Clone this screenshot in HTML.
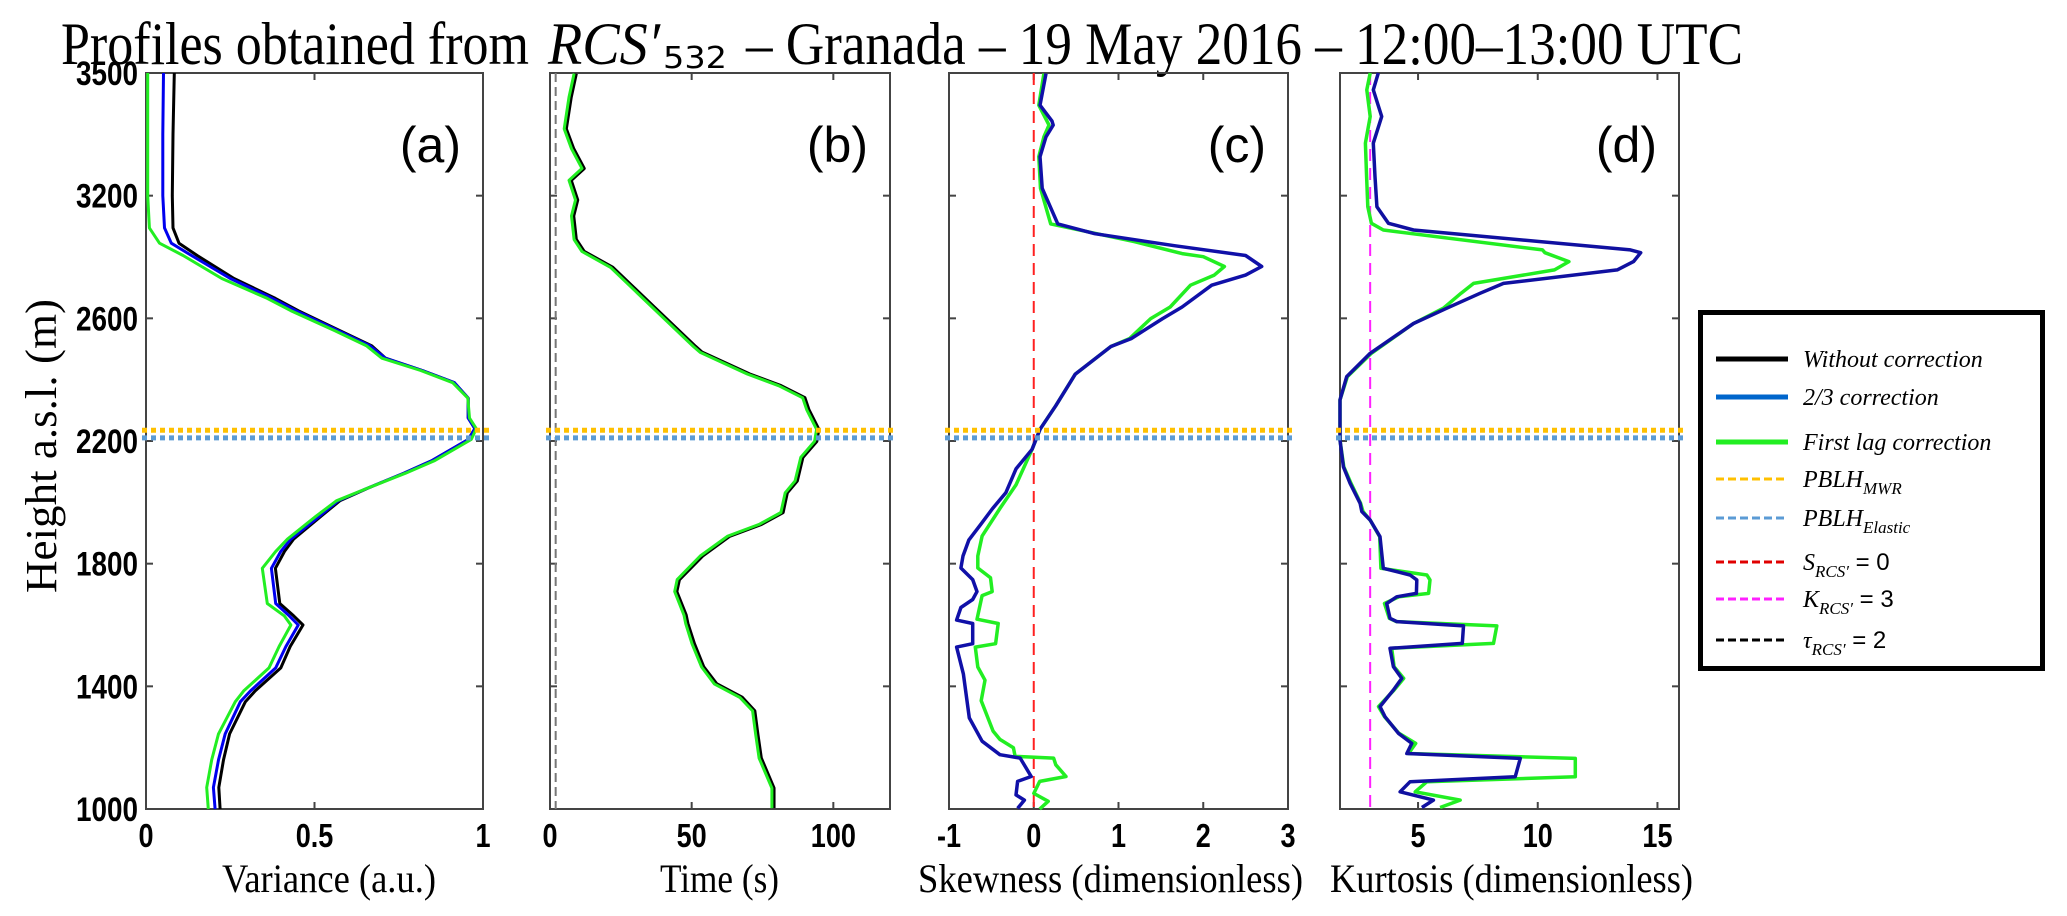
<!DOCTYPE html>
<html><head><meta charset="utf-8">
<style>
html,body{margin:0;padding:0;background:#fff;}
svg{display:block;}
</style></head>
<body>
<svg id="fig" width="2067" height="916" viewBox="0 0 2067 916" xmlns="http://www.w3.org/2000/svg">
<text x="61" y="64" font-family="Liberation Serif, serif" font-size="60" fill="#000" textLength="468" lengthAdjust="spacingAndGlyphs">Profiles obtained from</text>
<text x="548" y="64" font-family="Liberation Serif, serif" font-style="italic" font-size="60" fill="#000" textLength="112" lengthAdjust="spacingAndGlyphs">RCS′</text>
<text x="663" y="68" font-family="DejaVu Sans, sans-serif" font-size="30" fill="#000" textLength="64" lengthAdjust="spacingAndGlyphs">532</text>
<text x="746" y="64" font-family="Liberation Serif, serif" font-size="60" fill="#000" textLength="997" lengthAdjust="spacingAndGlyphs">– Granada – 19 May 2016 – 12:00–13:00 UTC</text>
<text transform="translate(56,446) rotate(-90)" text-anchor="middle" font-family="Liberation Serif, serif" font-size="44" fill="#000" textLength="294" lengthAdjust="spacingAndGlyphs">Height a.s.l. (m)</text>
<g id="plots"></g>
<g id="legend"></g>
</svg>
<script>
// ---------- data ----------
const yTickLabels = ['1000','1400','1800','2200','2600','3200','3500'];
const pblhMWR = 2235;
const pblhElastic = 2210;

// Panel (a) variance
const hA = [1000,1070,1160,1245,1350,1385,1460,1530,1600,1630,1670,1785,1840,1880,1955,2005,2045,2095,2135,2205,2240,2275,2340,2390,2430,2470,2510,2560,2625,2665,2730,2805,2845,2895,3000,3200,3400];
const varBlack = [0.22,0.216,0.23,0.248,0.295,0.324,0.40,0.428,0.466,0.438,0.397,0.384,0.411,0.438,0.52,0.575,0.656,0.765,0.847,0.956,0.976,0.956,0.956,0.915,0.82,0.711,0.67,0.575,0.452,0.384,0.261,0.152,0.098,0.08,0.078,0.08,0.084];
const varBlue = [0.205,0.2,0.215,0.235,0.28,0.31,0.385,0.415,0.452,0.425,0.385,0.372,0.4,0.43,0.515,0.57,0.655,0.765,0.847,0.956,0.976,0.956,0.956,0.915,0.82,0.71,0.665,0.57,0.445,0.375,0.25,0.135,0.075,0.055,0.05,0.05,0.052];
const varGreen = [0.185,0.18,0.195,0.215,0.265,0.29,0.365,0.395,0.43,0.41,0.36,0.345,0.385,0.42,0.505,0.565,0.655,0.77,0.855,0.965,0.98,0.96,0.955,0.91,0.815,0.7,0.655,0.56,0.43,0.36,0.225,0.11,0.04,0.01,0.005,0.005,0.005];
const varTicks = [0,0.5,1];
const varTickLabels = ['0','0.5','1'];

// Panel (b) time
const hB = [1003,1068,1166,1243,1320,1364,1408,1463,1539,1605,1632,1709,1748,1825,1890,1928,1967,2031,2070,2147,2199,2238,2302,2341,2380,2418,2489,2508,2637,2766,2818,2857,2934,2986,3050,3089,3153,3218,3321,3398];
const timeGreen = [78.3,78.3,73.8,72.6,71.5,67,58,53.5,50.1,47.9,47.3,44,44.9,53,62.7,73.8,81.5,83,86.5,88.5,93.4,94.1,90.6,89.2,80.8,69.7,53,50.6,36,21.4,11.3,8.5,7.6,9,6.7,11.3,7.6,5,6.7,8.5];
const timeBlack = [79,79,74.5,73.3,72.2,67.8,58.8,54.2,50.9,48.6,48,44.7,45.6,53.8,63.4,74.5,82.2,83.7,87.2,89.2,94.1,94.8,91.3,89.9,81.5,70.4,53.7,51.3,36.7,22.1,12,9.2,8.3,9.7,7.4,12,8.3,5.7,7.4,9.2];
const timeTicks = [0,50,100];
const timeTickLabels = ['0','50','100'];
const tauRef = 2;

// Panel (c) skewness
const hCblue = [1002,1029,1046,1090,1106,1166,1177,1221,1297,1440,1528,1539,1605,1616,1657,1683,1709,1748,1786,1825,1877,1928,1980,2031,2109,2173,2238,2315,2418,2508,2534,2599,2637,2708,2741,2769,2805,2837,2876,2908,3024,3127,3192,3230,3243,3295,3398];
const skewBlue = [-0.19,-0.11,-0.21,-0.19,-0.03,-0.16,-0.4,-0.61,-0.76,-0.83,-0.91,-0.72,-0.72,-0.91,-0.86,-0.72,-0.67,-0.72,-0.86,-0.835,-0.766,-0.626,-0.486,-0.33,-0.21,-0.02,0.074,0.26,0.49,0.91,1.15,1.52,1.75,2.1,2.5,2.69,2.5,1.66,0.72,0.284,0.1,0.074,0.145,0.23,0.215,0.074,0.145];
const hCgreen = [1000,1025,1051,1090,1106,1144,1166,1172,1200,1227,1254,1353,1420,1463,1528,1539,1605,1619,1696,1709,1754,1786,1825,1890,1980,2057,2173,2238,2315,2418,2508,2534,2599,2637,2708,2741,2769,2801,2811,2850,2908,3024,3127,3192,3230,3295,3398];
const skewGreen = [0.07,0.17,0.0,0.07,0.38,0.26,0.234,-0.22,-0.24,-0.4,-0.48,-0.62,-0.575,-0.66,-0.69,-0.45,-0.42,-0.67,-0.61,-0.49,-0.51,-0.66,-0.66,-0.61,-0.4,-0.21,-0.02,0.074,0.26,0.49,0.91,1.13,1.38,1.61,1.85,2.13,2.25,2.0,1.75,1.19,0.2,0.08,0.06,0.12,0.18,0.06,0.12];
const skewTicks = [-1,0,1,2,3];
const skewTickLabels = ['-1','0','1','2','3'];
const skewRef = 0;

// Panel (d) kurtosis
const hD = [1005,1029,1056,1089,1105,1165,1181,1214,1247,1301,1334,1388,1426,1464,1524,1540,1597,1611,1622,1670,1692,1703,1747,1763,1785,1888,1942,1970,1997,2062,2116,2203,2334,2410,2486,2583,2633,2682,2714,2758,2785,2814,2823,2888,2910,2964,3062,3171,3258,3345,3400];
const kurBlue = [5.16,5.64,4.25,4.67,9.06,9.27,4.53,4.74,4.18,3.62,3.41,3.97,4.32,3.97,3.83,6.85,6.9,4.11,3.83,3.69,4.11,4.93,4.95,4.67,3.55,3.41,3.0,2.65,2.58,2.16,1.88,1.74,1.74,2.02,3.0,4.81,6.2,7.6,8.57,13.32,14.0,14.3,13.87,4.81,3.76,3.28,3.2,3.13,3.48,3.13,3.34];
const kurGreen = [5.92,6.76,4.88,5.37,11.57,11.57,4.6,4.9,4.2,3.6,3.35,4.0,4.4,4.0,3.9,8.15,8.29,4.1,3.8,3.6,4.2,5.44,5.5,5.37,3.45,3.4,3.0,2.7,2.6,2.2,1.9,1.74,1.74,2.05,3.05,4.81,6.06,6.8,7.32,10.7,11.3,10.3,10.2,3.55,3.05,2.9,2.85,2.8,3.0,2.86,3.0];
const kurTicks = [5,10,15];
const kurTickLabels = ['5','10','15'];
const kurRef = 3;

// ---------- drawing ----------
const NS = 'http://www.w3.org/2000/svg';
const plots = document.getElementById('plots');
const Y0 = 809, Y1 = 73, HMIN = 1000, HMAX = 3400;
function yScale(h){ return Y0 - (h - HMIN) / (HMAX - HMIN) * (Y0 - Y1); }
function mk(tag, attrs, parent){
  const e = document.createElementNS(NS, tag);
  for (const k in attrs) e.setAttribute(k, attrs[k]);
  parent.appendChild(e);
  return e;
}
const panels = [
  {id:'a', x0:146, x1:483, vmin:0, vmax:1, ticks:varTicks, labels:varTickLabels, title:'Variance (a.u.)', tx:222, tw:214},
  {id:'b', x0:550, x1:890, vmin:0, vmax:120, ticks:timeTicks, labels:timeTickLabels, title:'Time (s)', tx:660, tw:119},
  {id:'c', x0:949, x1:1288, vmin:-1, vmax:3, ticks:skewTicks, labels:skewTickLabels, title:'Skewness (dimensionless)', tx:918, tw:385},
  {id:'d', x0:1340, x1:1679, vmin:1.74, vmax:15.9, ticks:kurTicks, labels:kurTickLabels, title:'Kurtosis (dimensionless)', tx:1330, tw:363}
];
function xs(p, v){ return p.x0 + (v - p.vmin) / (p.vmax - p.vmin) * (p.x1 - p.x0); }
function series(p, g, hs, vs, color, w, name){
  const pts = hs.map((h,i) => xs(p, vs[i]).toFixed(1) + ',' + yScale(h).toFixed(1)).join(' ');
  const pl = mk('polyline', {points:pts, fill:'none', stroke:color, 'stroke-width':w, 'stroke-linejoin':'round'}, g);
  
  
}
panels.forEach((p, pi) => {
  const g = mk('g', {}, plots);
  
  
  const box = mk('rect', {x:p.x0, y:Y1, width:p.x1-p.x0, height:Y0-Y1, fill:'none', stroke:'#444', 'stroke-width':2}, g);
  
  
  // y ticks
  yTickLabels.forEach((lab, i) => {
    const y = yScale(HMIN + 400 * i);
    mk('line', {x1:p.x0, x2:p.x0+7, y1:y, y2:y, stroke:'#444', 'stroke-width':2}, g);
    mk('line', {x1:p.x1, x2:p.x1-7, y1:y, y2:y, stroke:'#444', 'stroke-width':2}, g);
    if (pi === 0) {
      const t = mk('text', {x:0, y:0, transform:'translate(138,' + (y+12) + ') scale(0.82,1)', 'text-anchor':'end', 'font-family':'Liberation Sans, sans-serif', 'font-weight':'bold', 'font-size':34, fill:'#000'}, plots);
      t.textContent = lab;
      
      
    }
  });
  // x ticks
  p.ticks.forEach((v, i) => {
    const x = xs(p, v);
    mk('line', {x1:x, x2:x, y1:Y0, y2:Y0-7, stroke:'#444', 'stroke-width':2}, g);
    mk('line', {x1:x, x2:x, y1:Y1, y2:Y1+7, stroke:'#444', 'stroke-width':2}, g);
    const t = mk('text', {x:0, y:0, transform:'translate(' + x + ',847) scale(0.82,1)', 'text-anchor':'middle', 'font-family':'Liberation Sans, sans-serif', 'font-weight':'bold', 'font-size':33, fill:'#000'}, g);
    t.textContent = p.labels[i];
    
    
  });
  const xt = mk('text', {x:p.tx, y:892, 'font-family':'Liberation Serif, serif', 'font-size':40, fill:'#000', textLength:p.tw, lengthAdjust:'spacingAndGlyphs'}, g);
  xt.textContent = p.title;
  
  
  const pl = mk('text', {x:p.x1-22, y:162, 'text-anchor':'end', 'font-family':'Liberation Sans, sans-serif', 'font-size':50, fill:'#000'}, g);
  pl.textContent = '(' + p.id + ')';
  
  
  p.g = g;
});
const [pa, pb, pc, pd] = panels;
// reference verticals
function vref(p, v, color, name, dash){
  const x = xs(p, v);
  const l = mk('line', {x1:x, x2:x, y1:Y1, y2:Y0, stroke:color, 'stroke-width':2, 'stroke-dasharray':dash}, p.g);
  
  
}
vref(pb, tauRef, '#777', 'tau-reference-line', '9 5');
vref(pc, skewRef, '#ff2020', 'skewness-reference-line', '12 7');
vref(pd, kurRef, '#ff20ff', 'kurtosis-reference-line', '12 7');
// series
series(pa, pa.g, hA, varBlack, '#000', 3, 'variance-without-correction');
series(pa, pa.g, hA, varBlue, '#0000ee', 3, 'variance-two-thirds-correction');
series(pa, pa.g, hA, varGreen, '#22ee22', 3, 'variance-first-lag-correction');
series(pb, pb.g, hB, timeBlack, '#000', 3.5, 'time-without-correction');
series(pb, pb.g, hB, timeGreen, '#22ee22', 3, 'time-first-lag-correction');
series(pc, pc.g, hCgreen, skewGreen, '#22ee22', 3.5, 'skewness-first-lag-correction');
series(pc, pc.g, hCblue, skewBlue, '#1010a8', 3.5, 'skewness-two-thirds-correction');
series(pd, pd.g, hD, kurGreen, '#22ee22', 3.5, 'kurtosis-first-lag-correction');
series(pd, pd.g, hD, kurBlue, '#1010a0', 3.5, 'kurtosis-two-thirds-correction');
// PBLH lines
panels.forEach(p => {
  const a = mk('line', {x1:p.x0-4, x2:p.x1+6, y1:yScale(pblhMWR), y2:yScale(pblhMWR), stroke:'#ffc000', 'stroke-width':5, 'stroke-dasharray':'5 4'}, p.g);
  
  
  const b = mk('line', {x1:p.x0-4, x2:p.x1+6, y1:yScale(pblhElastic), y2:yScale(pblhElastic), stroke:'#5b9bd5', 'stroke-width':5, 'stroke-dasharray':'5 4'}, p.g);
  
  
});
// legend
const lg = document.getElementById('legend');
const lbox = mk('rect', {x:1700.5, y:312.5, width:342, height:356, fill:'#fff', stroke:'#000', 'stroke-width':5}, lg);


const legItems = [
  {y:359, c:'#000', w:5, d:'', main:'Without  correction', sub:'', tail:''},
  {y:397, c:'#0066cc', w:5, d:'', main:'2/3  correction', sub:'', tail:''},
  {y:442, c:'#22ee22', w:5, d:'', main:'First lag  correction', sub:'', tail:''},
  {y:479, c:'#ffc000', w:3, d:'8 4', main:'PBLH', sub:'MWR', tail:''},
  {y:518, c:'#5b9bd5', w:3, d:'8 4', main:'PBLH', sub:'Elastic', tail:''},
  {y:562, c:'#e00000', w:3, d:'8 4', main:'S', sub:'RCS′', tail:' = 0'},
  {y:599, c:'#ff20ff', w:3, d:'8 4', main:'K', sub:'RCS′', tail:' = 3'},
  {y:640, c:'#000', w:3, d:'8 4', main:'τ', sub:'RCS′', tail:' = 2'}
];
legItems.forEach(it => {
  const gi = mk('g', {}, lg);
  
  
  mk('line', {x1:1716, x2:1788, y1:it.y, y2:it.y, stroke:it.c, 'stroke-width':it.w, 'stroke-dasharray':it.d}, gi);
  const t = mk('text', {x:1803, y:it.y+8, 'font-family':'Liberation Serif, serif', 'font-style':'italic', 'font-size':24, fill:'#000'}, gi);
  const s1 = mk('tspan', {}, t); s1.textContent = it.main;
  if (it.sub) { const s2 = mk('tspan', {dy:7, 'font-size':17}, t); s2.textContent = it.sub; }
  if (it.tail) { const s3 = mk('tspan', {dy:-7, 'font-style':'normal', 'font-family':'Liberation Sans, sans-serif'}, t); s3.textContent = it.tail; }
});
</script>
</body></html>
